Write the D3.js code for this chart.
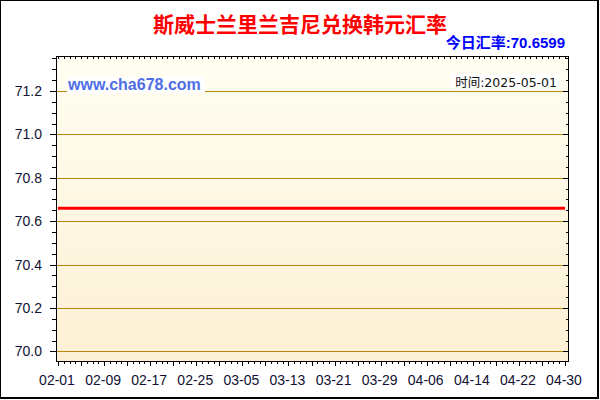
<!DOCTYPE html>
<html>
<head>
<meta charset="utf-8">
<script src="https://cdn.jsdelivr.net/npm/d3@7"></script>
<style>
  body { margin: 0; background: #fff; }
  svg { display: block; }
</style>
</head>
<body>
<script>
const WIDTH = 600;
const HEIGHT = 400;

// daily rate, 2025-02-01 .. 2025-04-30 (flat in the picture)
var FEB_VALUES = [70.6599, 70.6599, 70.6599, 70.6599, 70.6599, 70.6599, 70.6599,
  70.6599, 70.6599, 70.6599, 70.6599, 70.6599, 70.6599, 70.6599, 70.6599, 70.6599,
  70.6599, 70.6599, 70.6599, 70.6599, 70.6599, 70.6599, 70.6599, 70.6599, 70.6599,
  70.6599, 70.6599, 70.6599];
var MAR_VALUES = [70.6599, 70.6599, 70.6599, 70.6599, 70.6599, 70.6599, 70.6599,
  70.6599, 70.6599, 70.6599, 70.6599, 70.6599, 70.6599, 70.6599, 70.6599, 70.6599,
  70.6599, 70.6599, 70.6599, 70.6599, 70.6599, 70.6599, 70.6599, 70.6599, 70.6599,
  70.6599, 70.6599, 70.6599, 70.6599, 70.6599, 70.6599];
var APR_VALUES = [70.6599, 70.6599, 70.6599, 70.6599, 70.6599, 70.6599, 70.6599,
  70.6599, 70.6599, 70.6599, 70.6599, 70.6599, 70.6599, 70.6599, 70.6599, 70.6599,
  70.6599, 70.6599, 70.6599, 70.6599, 70.6599, 70.6599, 70.6599, 70.6599, 70.6599,
  70.6599, 70.6599, 70.6599, 70.6599, 70.6599];
var VALUES = FEB_VALUES.concat(MAR_VALUES, APR_VALUES);

var START_DATE = "2025-02-01";
var END_DATE = "2025-04-30";
var X_TICK_LABELS = ["02-01", "02-09", "02-17", "02-25", "03-05", "03-13",
  "03-21", "03-29", "04-06", "04-14", "04-22", "04-30"];
var Y_TICK_LABELS = ["70.0", "70.2", "70.4", "70.6", "70.8", "71.0", "71.2"];

var TITLE = "斯威士兰里兰吉尼兑换韩元汇率";
var TODAY_LABEL = "今日汇率:70.6599";
var TIME_LABEL = "时间:2025-05-01";
var SITE_LABEL = "www.cha678.com";

var parseDay = d3.timeParse("%Y-%m-%d");
var DATES = d3.timeDay.range(parseDay(START_DATE), d3.timeDay.offset(parseDay(END_DATE), 1));
var DATA = DATES.map((d, i) => ({ date: d, value: VALUES[i] }));

// plot frame
var PL = 56, PR = 568, PT = 56, PB = 361;

var xScale = d3.scaleTime()
  .domain([DATES[0], DATES[DATES.length - 1]])
  .range([58, 565]);

var yScale = d3.scaleLinear()
  .domain([69.956, 71.361])
  .range([PB, PT]);

var svg = d3.select("body").append("svg")
  .attr("width", WIDTH)
  .attr("height", HEIGHT);

//gradient background
var grad = svg.append("defs").append("linearGradient")
  .attr("id", "bg").attr("x1", 0).attr("y1", 0).attr("x2", 0).attr("y2", 1);
grad.append("stop").attr("offset", "0%").attr("stop-color", "#fffef2");
grad.append("stop").attr("offset", "100%").attr("stop-color", "#fdf0d4");

svg.append("rect")
  .attr("x", PL).attr("y", PT)
  .attr("width", PR - PL).attr("height", PB - PT)
  .attr("fill", "url(#bg)");

//grid lines
var yMajor = Y_TICK_LABELS.map(Number);
svg.append("g")
  .selectAll("line")
  .data(yMajor)
  .enter()
  .append("line")
  .attr("x1", PL).attr("x2", PR)
  .attr("y1", (d) => Math.round(yScale(d)) + 0.5)
  .attr("y2", (d) => Math.round(yScale(d)) + 0.5)
  .attr("stroke", "#b8860b")
  .attr("stroke-width", 1);

//y minor tick values every 0.05
var yMinor = d3.range(0, 28).map((i) => +(70 + i * 0.05).toFixed(2))
  .filter((v) => yMajor.indexOf(v) < 0);

function styleTicks(g) {
  g.select(".domain").remove();
  g.selectAll("line").attr("stroke", "#000").attr("shape-rendering", "crispEdges");
  g.selectAll("text").remove();
}

//left axis
svg.append("g").attr("transform", "translate(" + PL + ",0)")
  .call(d3.axisLeft(yScale).tickValues(yMinor).tickSize(4)).call(styleTicks);
svg.append("g").attr("transform", "translate(" + PL + ",0)")
  .call(d3.axisLeft(yScale).tickValues(yMajor).tickSize(6)).call(styleTicks);

//right axis (inward)
svg.append("g").attr("transform", "translate(" + PR + ",0)")
  .call(d3.axisLeft(yScale).tickValues(yMinor).tickSize(2)).call(styleTicks);
svg.append("g").attr("transform", "translate(" + PR + ",0)")
  .call(d3.axisLeft(yScale).tickValues(yMajor).tickSize(5)).call(styleTicks);

//y labels
svg.append("g")
  .selectAll("text")
  .data(Y_TICK_LABELS)
  .enter()
  .append("text")
  .text((d) => d)
  .attr("text-anchor", "end")
  .attr("x", 42)
  .attr("y", (d) => yScale(+d) + 5)
  .attr("font-family", "Liberation Sans, Arial, sans-serif")
  .attr("font-size", "14px")
  .attr("fill", "#111133");

//bottom axis
var xMajor = DATES.filter((d, i) => i % 4 === 0);
svg.append("g").attr("transform", "translate(0," + PB + ")")
  .call(d3.axisBottom(xScale).tickValues(DATES).tickSize(3)).call(styleTicks);
svg.append("g").attr("transform", "translate(0," + PB + ")")
  .call(d3.axisBottom(xScale).tickValues(xMajor).tickSize(5)).call(styleTicks);

//top axis (inward)
svg.append("g").attr("transform", "translate(0," + PT + ")")
  .call(d3.axisBottom(xScale).tickValues(DATES).tickSize(3)).call(styleTicks);

//x labels
var parseLabel = (s) => parseDay("2025-" + s);
svg.append("g")
  .selectAll("text")
  .data(X_TICK_LABELS)
  .enter()
  .append("text")
  .text((d) => d)
  .attr("text-anchor", "middle")
  .attr("x", (d) => xScale(parseLabel(d)) - 1)
  .attr("y", 385)
  .attr("font-family", "Liberation Sans, Arial, sans-serif")
  .attr("font-size", "14px")
  .attr("fill", "#111133");

//plot frame
svg.append("path")
  .attr("d", "M" + (PL + 0.5) + "," + PT + "V" + (PB + 0.5) + "H" + (PR + 0.5) + "V" + PT)
  .attr("fill", "none")
  .attr("stroke", "#000")
  .attr("stroke-width", 1)
  .attr("shape-rendering", "crispEdges");
svg.append("line")
  .attr("x1", PL).attr("x2", PR + 1)
  .attr("y1", PT + 0.5).attr("y2", PT + 0.5)
  .attr("stroke", "#000")
  .attr("shape-rendering", "crispEdges");

//watermark
svg.append("rect")
  .attr("x", 67).attr("y", 77).attr("width", 138).attr("height", 16)
  .attr("fill", "#ffffff");
svg.append("text")
  .text(SITE_LABEL)
  .attr("x", 68).attr("y", 90)
  .attr("font-family", "Liberation Sans, Arial, sans-serif")
  .attr("font-weight", "bold")
  .attr("font-size", "16px")
  .attr("fill", "#4f6ee6");

svg.append("rect")
  .attr("x", 451).attr("y", 74).attr("width", 108).attr("height", 15)
  .attr("fill", "#ffffff");
svg.append("text")
  .text(TIME_LABEL)
  .attr("text-anchor", "end")
  .attr("x", 557).attr("y", 87)
  .attr("font-family", "DejaVu Sans, Noto Sans CJK SC, sans-serif")
  .attr("font-size", "12.5px")
  .attr("fill", "#111111");

//rate line
var line = d3.line()
  .x((d) => xScale(d.date))
  .y((d) => yScale(d.value));

svg.append("path")
  .datum(DATA)
  .attr("d", line)
  .attr("fill", "none")
  .attr("stroke", "#ff0000")
  .attr("stroke-width", 3);

//titles
svg.append("text")
  .text(TITLE)
  .attr("text-anchor", "middle")
  .attr("x", 300).attr("y", 32)
  .attr("font-family", "Noto Sans CJK SC, sans-serif")
  .attr("font-weight", "bold")
  .attr("font-size", "21px")
  .attr("fill", "#ff0000");

svg.append("text")
  .text(TODAY_LABEL)
  .attr("text-anchor", "end")
  .attr("x", 565).attr("y", 48)
  .attr("font-family", "Liberation Sans, Noto Sans CJK SC, sans-serif")
  .attr("font-weight", "bold")
  .attr("font-size", "15px")
  .attr("fill", "#0000ff");

//outer border
svg.append("rect")
  .attr("x", 0.5).attr("y", 0.5)
  .attr("width", WIDTH - 2).attr("height", HEIGHT - 2)
  .attr("fill", "none")
  .attr("stroke", "#000")
  .attr("stroke-width", 1);
svg.append("path")
  .attr("d", "M" + (WIDTH - 2.5) + ",1V" + (HEIGHT - 2.5) + "H1")
  .attr("fill", "none")
  .attr("stroke", "#000")
  .attr("stroke-width", 1);
</script>
</body>
</html>
